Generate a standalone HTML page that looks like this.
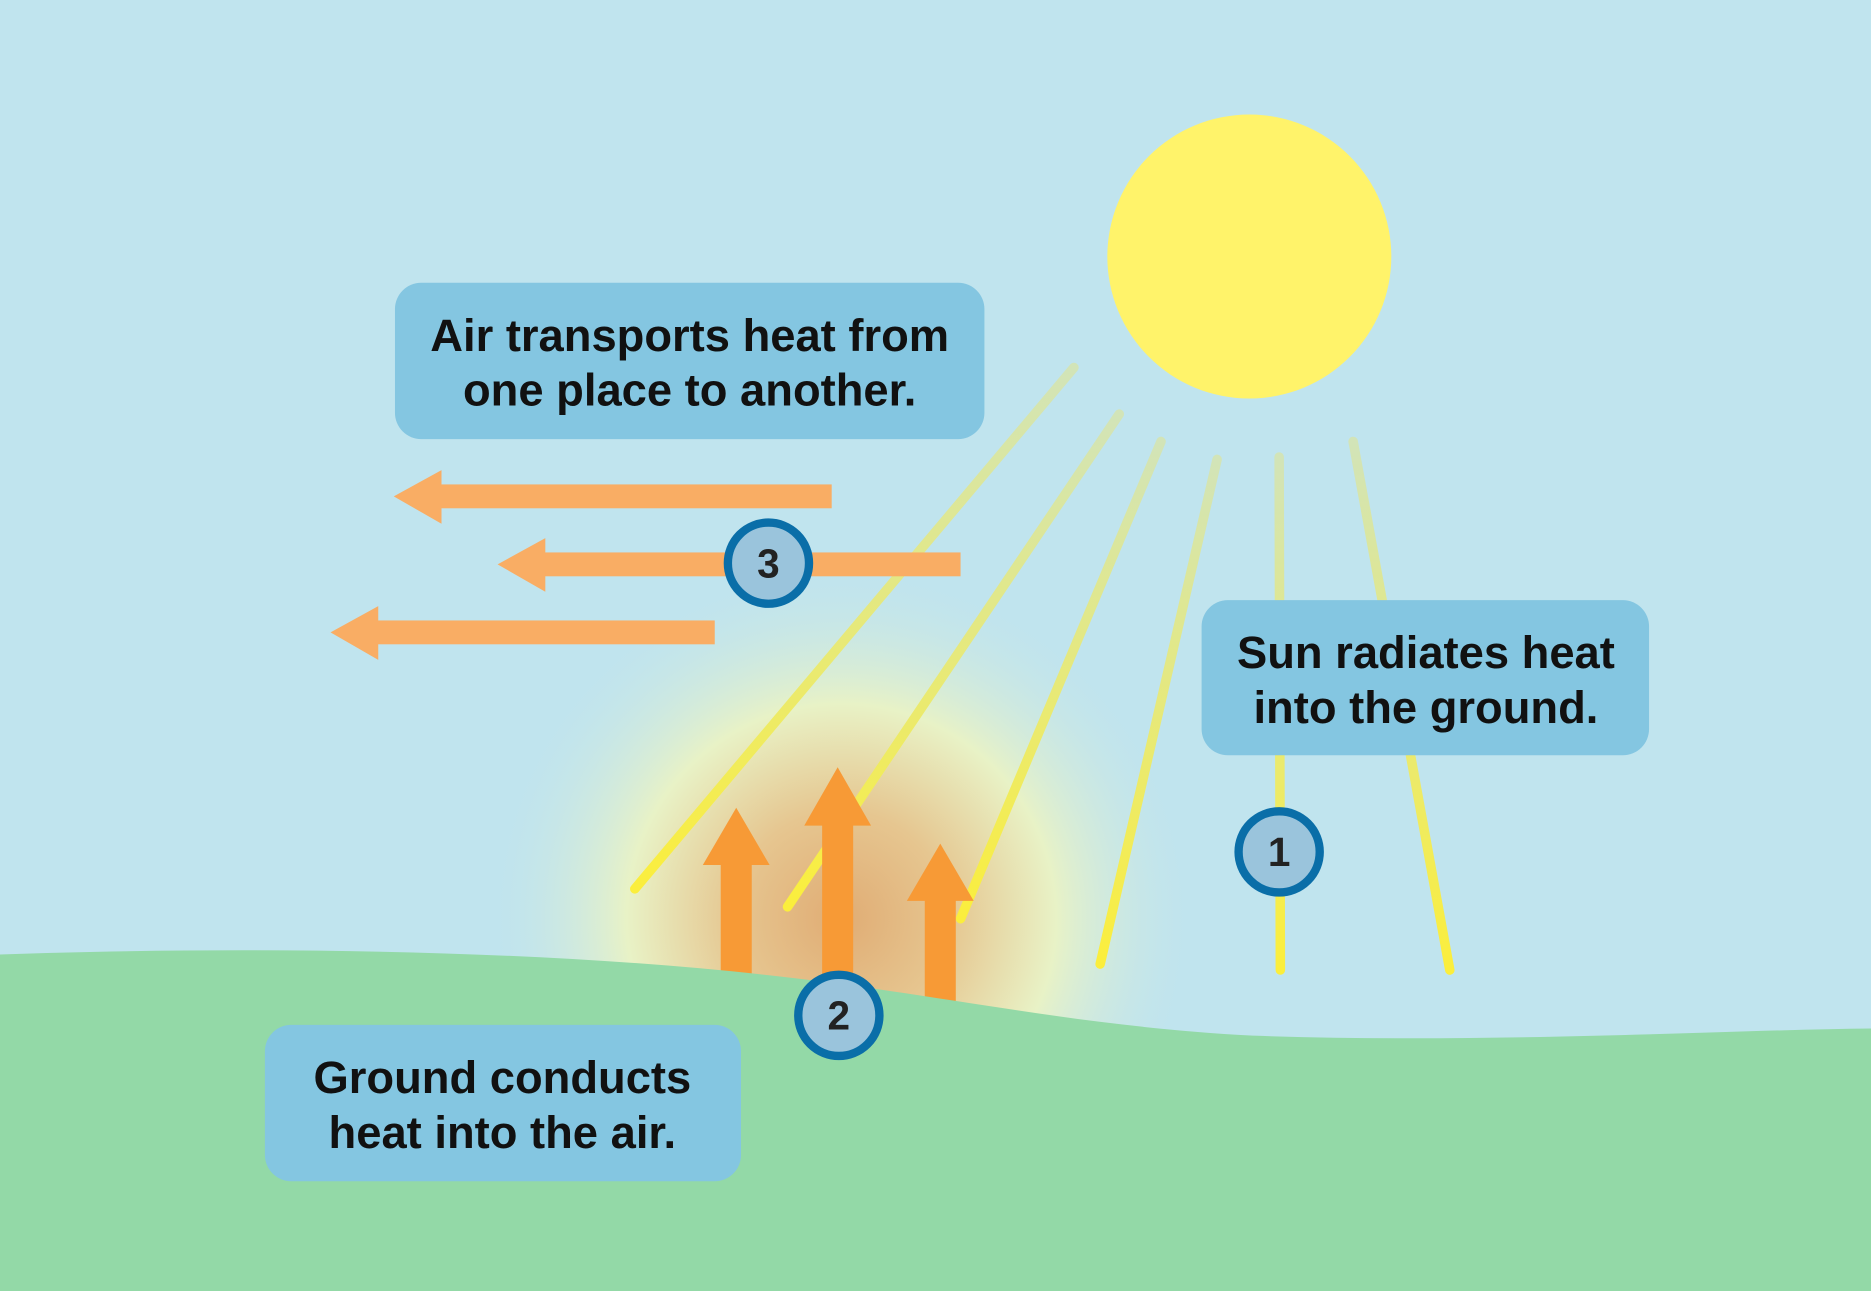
<!DOCTYPE html>
<html><head><meta charset="utf-8"><style>html,body{margin:0;padding:0;width:1871px;height:1291px;overflow:hidden;background:#c0e4ee}</style></head>
<body>
<svg width="1871" height="1291" viewBox="0 0 1568 1082" preserveAspectRatio="none" xmlns="http://www.w3.org/2000/svg" font-family="Liberation Sans, Arial, sans-serif">
<defs>
<radialGradient id="glow" cx="705" cy="770" r="300" gradientUnits="userSpaceOnUse">
<stop offset="0" stop-color="#e0ac74"/>
<stop offset="0.3" stop-color="#e6c690"/>
<stop offset="0.6" stop-color="#e8f2c6"/>
<stop offset="1" stop-color="#c0e4ee" stop-opacity="0"/>
</radialGradient>
<linearGradient id="ray" x1="0" y1="0" x2="0" y2="1">
<stop offset="0" stop-color="#d2e4b8"/>
<stop offset="1" stop-color="#fbee3c"/>
</linearGradient>
</defs>
<rect width="1568" height="1082" fill="#c0e4ee"/>
<circle cx="705" cy="770" r="300" fill="url(#glow)"/>
<g stroke-width="8" stroke-linecap="round" fill="none">
<line x1="900" y1="308" x2="532" y2="745" stroke="url(#ray)"/>
<line x1="938" y1="347" x2="660" y2="760" stroke="url(#ray)"/>
<line x1="973" y1="370" x2="805" y2="770" stroke="url(#ray)"/>
<line x1="1020" y1="385" x2="922" y2="808" stroke="url(#ray)"/>
<line x1="1072" y1="383" x2="1073" y2="813" stroke="url(#ray)"/>
<line x1="1134" y1="370" x2="1215" y2="813" stroke="url(#ray)"/>
</g>
<circle cx="1047" cy="215" r="119" fill="#fff36a"/>
<g fill="#f79a36">
<rect x="604" y="720" width="26" height="110"/><polygon points="589,725 645,725 617,677"/>
<rect x="689" y="688" width="26" height="140"/><polygon points="674,692 730,692 702,643"/>
<rect x="775" y="750" width="26" height="110"/><polygon points="760,755 816,755 788,707"/>
</g>
<path d="M0,800 C200,793 450,795 650,818 C800,835 900,860 1050,868 C1250,875 1450,863 1568,862 L1568,1082 L0,1082 Z" fill="#93d9a7"/>
<g fill="#f9ad64">
<rect x="366" y="406" width="331" height="20"/><polygon points="330,416 370,394 370,439"/>
<rect x="453" y="463" width="352" height="20"/><polygon points="417,473 457,451 457,496"/>
<rect x="313" y="520" width="286" height="20"/><polygon points="277,530 317,508 317,553"/>
</g>
<g fill="#84c6e1">
<rect x="331" y="237" width="494" height="131" rx="22"/>
<rect x="1007" y="503" width="375" height="130" rx="22"/>
<rect x="222" y="859" width="399" height="131" rx="22"/>
</g>
<g font-weight="bold" font-size="38" text-anchor="middle" fill="#111">
<text x="578" y="294">Air transports heat from</text>
<text x="578" y="340">one place to another.</text>
<text x="1195" y="560">Sun radiates heat</text>
<text x="1195" y="606">into the ground.</text>
<text x="421" y="916">Ground conducts</text>
<text x="421" y="962">heat into the air.</text>
</g>
<g fill="#9ac4dc" stroke="#0a6ea8" stroke-width="7">
<circle cx="644" cy="472" r="34"/><circle cx="1072" cy="714" r="34"/><circle cx="703" cy="851" r="34"/>
</g>
<g font-weight="bold" font-size="34" text-anchor="middle" fill="#222">
<text x="644" y="484">3</text><text x="1072" y="726">1</text><text x="703" y="863">2</text>
</g>
</svg>
</body></html>
